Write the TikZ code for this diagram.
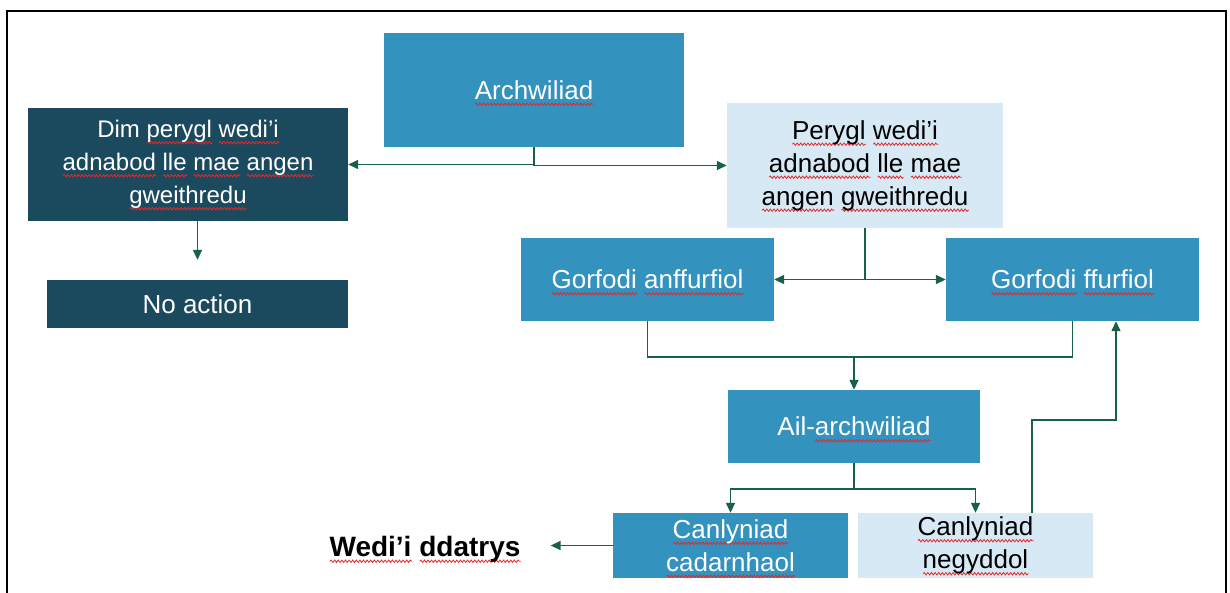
\documentclass[tikz,border=0pt]{standalone}
\usepackage{fontspec}
\setmainfont{Liberation Sans}
\usetikzlibrary{arrows.meta,decorations.pathmorphing}

\definecolor{archblue}{RGB}{52,146,191}
\definecolor{darkteal}{RGB}{27,74,94}
\definecolor{paleblue}{RGB}{214,233,245}
\definecolor{arrowgreen}{RGB}{22,96,76}
\definecolor{spellred}{RGB}{228,40,40}

% red wavy underline, as the spell checker draws it
\newsavebox\splbox
\newcommand\spl[1]{\sbox\splbox{#1}\rlap{\smash{\tikz[baseline=0pt,x=1pt,y=1pt]
	\draw[spellred, line width=0.8pt, decorate, decoration={snake, amplitude=1.2pt, segment length=3.6pt}]
	(0,-5) -- (\wd\splbox,-5);}}#1}

\tikzset{
	box/.style={rectangle, inner sep=0pt, align=center, font=\fontsize{26}{33}\selectfont},
	darkbox/.style={box, fill=darkteal, text=white},
	midbox/.style={box, fill=archblue, text=white},
	lightbox/.style={box, fill=paleblue, text=black},
	conn/.style={draw=arrowgreen, line width=1.4pt},
	arr/.style={conn, -{Triangle[length=10pt,width=9pt]}},
}

\begin{document}
\begin{tikzpicture}[x=1pt, y=-1pt]
		%%%%% START %%%%%
		\useasboundingbox (0,0) rectangle (1230,592);
		\draw[line width=1.6pt] (7,600) -- (7,11) -- (1226,11) -- (1226,600);
		
		\node[midbox, minimum width=300pt, minimum height=114pt] (arch) at (534,90) {\spl{Archwiliad}};
		\node[darkbox, minimum width=320pt, minimum height=113pt, font=\fontsize{24}{33}\selectfont] (dim) at (188,164.5)
			{Dim \spl{perygl} \spl{wedi’i}\\\spl{adnabod} \spl{lle} \spl{mae} \spl{angen}\\\spl{gweithredu}};
		\node[darkbox, minimum width=301pt, minimum height=48pt] (noact) at (197.5,304) {No action};
		\node[lightbox, minimum width=276pt, minimum height=125pt] (pery) at (865,165.5)
			{\spl{Perygl} \spl{wedi’i}\\\spl{adnabod} \spl{lle} \spl{mae}\\\spl{angen} \spl{gweithredu}};
		
		\node[midbox, minimum width=253pt, minimum height=83pt] (gan) at (647.5,279.5) {\spl{Gorfodi} \spl{anffurfiol}};
		\node[midbox, minimum width=253pt, minimum height=83pt] (gff) at (1072.5,279.5) {\spl{Gorfodi} \spl{ffurfiol}};
		\node[midbox, minimum width=252pt, minimum height=73pt] (ail) at (854,426.5) {Ail-\spl{archwiliad}};
		
		\node[midbox, minimum width=235pt, minimum height=65pt] (cad) at (730.5,545.5) {\spl{Canlyniad}\\\spl{cadarnhaol}};
		\node[lightbox, minimum width=235pt, minimum height=65pt] (neg) at (975.5,545.5) {\spl{Canlyniad}\\\spl{negyddol}};
		\node[font=\fontsize{28}{32}\selectfont\bfseries, inner sep=0pt] (done) at (425,549) {\spl{Wedi’i} \spl{ddatrys}};
		
		\coordinate (mrg) at (854,357);
		\coordinate (spl) at (854,489);
		\coordinate (fb) at (1032,420);
		
		\draw[arr] (arch.south) |- (dim.east);
		\draw[arr] (arch.south) |- (pery.west);
		\draw[arr] (dim.south -| noact.north) -- ([yshift=20pt]noact.north);
		
		\draw[arr] (pery.south) |- (gan.east);
		\draw[arr] (pery.south) |- (gff.west);
		
		\draw[conn] (gan.south) |- (mrg) -| (gff.south);
		\draw[arr] (mrg) -- (ail.north);
		
		\draw[conn] (ail.south) -- (spl);
		\draw[arr] (spl) -| (cad.north);
		\draw[arr] (spl) -| (neg.north);
		
		\draw[arr] (cad.west) -- ([xshift=30pt]done.east |- cad.west);
		\draw[arr] (neg.north -| fb) -- (fb) -| ([xshift=43.5pt]gff.south);
		%%%%% END %%%%%
\end{tikzpicture}
\end{document}
